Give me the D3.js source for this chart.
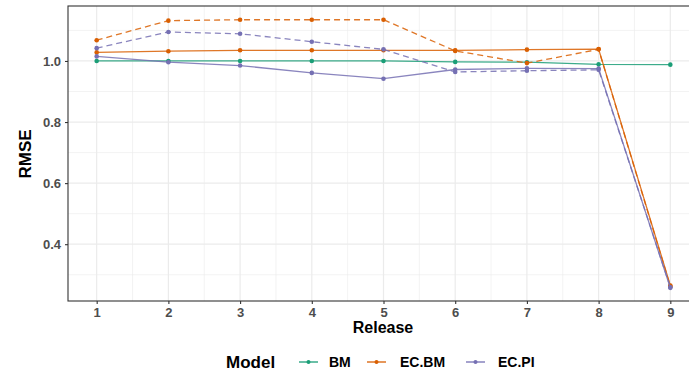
<!DOCTYPE html>
<html><head><meta charset="utf-8">
<script src="https://cdn.jsdelivr.net/npm/d3@7"></script>
<style>body{margin:0;background:#fff}svg{display:block}text{font-family:"Liberation Sans",Arial,sans-serif;font-weight:bold}</style>
</head><body><svg id="c" width="689" height="376"></svg>
<script>
const releases = [1,2,3,4,5,6,7,8,9];
const yTicks = [0.4,0.6,0.8,1.0];
const models = ["BM","EC.BM","EC.PI"];
const colors = ["#1b9e77","#d95f02","#7570b3"];
const bmSolid   = [1.000,1.000,1.000,1.000,1.000,0.997,0.996,0.989,0.988];
const ecbmSolid = [1.028,1.032,1.035,1.035,1.035,1.035,1.037,1.039,0.265];
const ecbmDash  = [1.068,1.132,1.135,1.135,1.135,1.033,0.993,1.038,0.262];
const ecpiSolid = [1.015,0.996,0.985,0.961,0.942,0.972,0.976,0.975,0.257];
const ecpiDash  = [1.042,1.095,1.089,1.063,1.038,0.964,0.968,0.971,0.259];

const series = [
  {model:"BM", vals:bmSolid, dash:null},
  {model:"EC.BM", vals:ecbmSolid, dash:null},
  {model:"EC.BM", vals:ecbmDash, dash:"6,4"},
  {model:"EC.PI", vals:ecpiSolid, dash:null},
  {model:"EC.PI", vals:ecpiDash, dash:"6,4"}
];
const color = d3.scaleOrdinal(models, colors);

const svg = d3.select("#c");
const L=68, T=6, B=301;
const x = d3.scaleLinear().domain([0.6,9.4]).range([68,699]);
const y = d3.scaleLinear().domain([0.214,1.18]).range([B,T]);

// grid
const g = svg.append("g");
const xMinor = d3.range(1.5,9.5,1);
const yMinor = [0.3,0.5,0.7,0.9,1.1];
g.selectAll(".xm").data(xMinor).enter().append("line")
 .attr("x1",d=>x(d)).attr("x2",d=>x(d)).attr("y1",T).attr("y2",B)
 .attr("stroke","#ebebeb").attr("stroke-width",0.6);
g.selectAll(".ym").data(yMinor).enter().append("line")
 .attr("y1",d=>y(d)).attr("y2",d=>y(d)).attr("x1",L).attr("x2",699)
 .attr("stroke","#ebebeb").attr("stroke-width",0.6);
g.selectAll(".xM").data(releases).enter().append("line")
 .attr("x1",d=>x(d)).attr("x2",d=>x(d)).attr("y1",T).attr("y2",B)
 .attr("stroke","#ebebeb").attr("stroke-width",1.2);
g.selectAll(".yM").data(yTicks).enter().append("line")
 .attr("y1",d=>y(d)).attr("y2",d=>y(d)).attr("x1",L).attr("x2",699)
 .attr("stroke","#ebebeb").attr("stroke-width",1.2);

// lines
const line = d3.line().x((d,i)=>x(releases[i])).y(d=>y(d));
series.forEach(s=>{
  const c = color(s.model);
  svg.append("path").datum(s.vals).attr("d",line).attr("fill","none")
    .attr("stroke",c).attr("stroke-width",1.3).attr("stroke-opacity",0.85)
    .attr("stroke-dasharray",s.dash);
  svg.selectAll(null).data(s.vals).enter().append("circle")
    .attr("cx",(d,i)=>x(releases[i])).attr("cy",d=>y(d)).attr("r",2.3)
    .attr("fill",c);
});

// panel border
svg.append("rect").attr("x",L).attr("y",T).attr("width",699-L).attr("height",B-T)
  .attr("fill","none").attr("stroke","#333").attr("stroke-width",1.1);

// axes
const xa = svg.append("g").attr("transform",`translate(0,${B})`)
  .call(d3.axisBottom(x).tickValues(releases).tickSize(3).tickPadding(4).tickFormat(d3.format("d")));
const ya = svg.append("g").attr("transform",`translate(${L},0)`)
  .call(d3.axisLeft(y).tickValues(yTicks).tickSize(3).tickPadding(4).tickFormat(d3.format(".1f")));
[xa,ya].forEach(a=>{
  a.select(".domain").remove();
  a.selectAll(".tick line").attr("stroke","#333").attr("stroke-width",1.1);
  a.selectAll(".tick text").attr("fill","#4d4d4d").style("font-size","13px");
});
xa.selectAll(".tick text").attr("dy","0.68em");

svg.append("text").attr("x",383).attr("y",333).attr("text-anchor","middle")
  .style("font-size","16px").attr("fill","#000").text("Release");
svg.append("text").attr("transform","translate(31,154) rotate(-90)").attr("text-anchor","middle")
  .style("font-size","17px").attr("fill","#000").text("RMSE");

// legend
const lg = svg.append("g");
lg.append("text").attr("x",226).attr("y",368).style("font-size","17px").attr("fill","#000").text("Model");
const keyX = [299,367,466], labX=[329,400,498];
models.forEach((m,i)=>{
  lg.append("line").attr("x1",keyX[i]).attr("x2",keyX[i]+19).attr("y1",362).attr("y2",362)
    .attr("stroke",color(m)).attr("stroke-width",1.3);
  lg.append("circle").attr("cx",keyX[i]+9.5).attr("cy",362).attr("r",2).attr("fill",color(m));
  lg.append("text").attr("x",labX[i]).attr("y",367).style("font-size","14px").attr("fill","#000").text(m);
});
</script></body></html>
